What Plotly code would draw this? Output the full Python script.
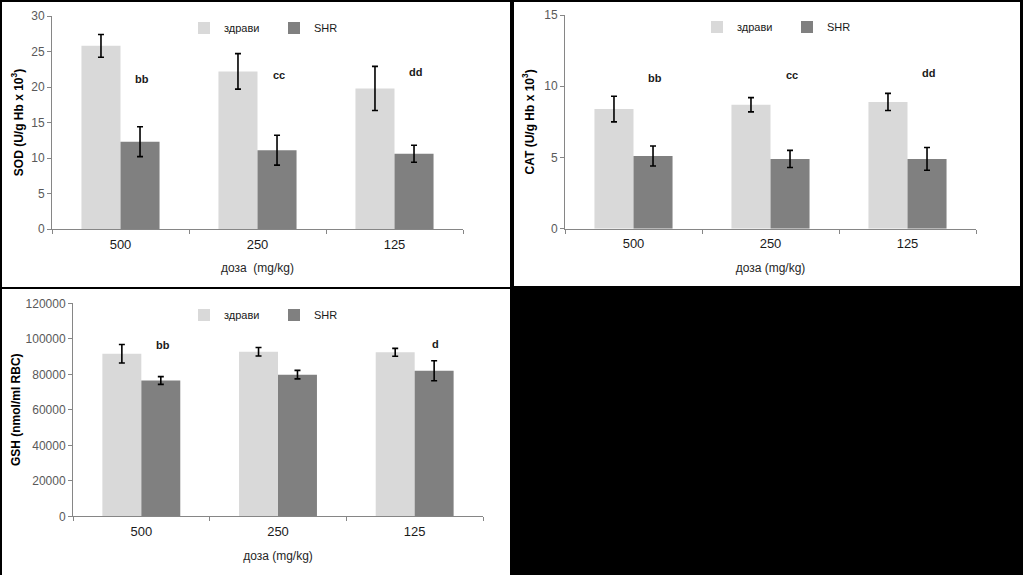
import plotly.graph_objects as go

# ---------------- data ----------------
doses = ["500", "250", "125"]
series_names = ["здрави", "SHR"]

sod_healthy = [25.8, 22.2, 19.8]
sod_healthy_err = [1.6, 2.5, 3.1]
sod_shr = [12.3, 11.1, 10.6]
sod_shr_err = [2.1, 2.1, 1.2]

cat_healthy = [8.4, 8.7, 8.9]
cat_healthy_err = [0.9, 0.5, 0.6]
cat_shr = [5.1, 4.9, 4.9]
cat_shr_err = [0.7, 0.6, 0.8]

gsh_healthy = [91600, 92700, 92400]
gsh_healthy_err = [5200, 2400, 2200]
gsh_shr = [76500, 79800, 82000]
gsh_shr_err = [2200, 2400, 5600]

sod_sig = ["bb", "cc", "dd"]
cat_sig = ["bb", "cc", "dd"]
gsh_sig = ["bb", "", "d"]

# ---------------- styling ----------------
W, H = 1023, 575
FONT = "Liberation Sans, Arial, sans-serif"
C_HEALTHY = "#d9d9d9"
C_SHR = "#808080"
AXIS_COL = "#868686"


def px_x(x):
    return x / W


def px_y(y):
    return (H - y) / H


fig = go.Figure()

panels = [
    dict(x="x", y="y", leg="legend", h=sod_healthy, he=sod_healthy_err, s=sod_shr, se=sod_shr_err),
    dict(x="x2", y="y2", leg="legend2", h=cat_healthy, he=cat_healthy_err, s=cat_shr, se=cat_shr_err),
    dict(x="x3", y="y3", leg="legend3", h=gsh_healthy, he=gsh_healthy_err, s=gsh_shr, se=gsh_shr_err),
]

for p in panels:
    for name, vals, errs, col in [(series_names[0], p["h"], p["he"], C_HEALTHY),
                                  (series_names[1], p["s"], p["se"], C_SHR)]:
        fig.add_trace(go.Bar(
            x=doses, y=vals, name=name, marker=dict(color=col, line=dict(width=0)),
            error_y=dict(type="data", array=errs, visible=True, color="black",
                         thickness=1.6, width=3),
            xaxis=p["x"], yaxis=p["y"], legend=p["leg"],
        ))

# white panels on black background
panel_boxes = [(2, 2, 510, 287), (514, 2, 1020, 286), (2, 289, 510, 575)]
shapes = []
for (x0, y0, x1, y1) in panel_boxes:
    shapes.append(dict(type="rect", xref="paper", yref="paper", layer="below",
                       x0=px_x(x0), x1=px_x(x1), y0=px_y(y1), y1=px_y(y0),
                       fillcolor="white", line=dict(width=0)))

tickfont_y = dict(family=FONT, size=12, color="#595959")
tickfont_x = dict(family=FONT, size=13, color="#1a1a1a")
title_x_font = dict(family=FONT, size=12, color="#262626")
title_y_font = dict(family=FONT, size=12, color="black")


def xaxis_cfg(dom, title, anchor):
    return dict(domain=dom, type="category", showline=True, linecolor=AXIS_COL, linewidth=1,
                ticks="outside", tickson="boundaries", ticklen=4, tickcolor=AXIS_COL,
                showgrid=False, zeroline=False, tickfont=tickfont_x, fixedrange=True,
                ticklabelstandoff=3,
                anchor=anchor, title=dict(text=title, font=title_x_font, standoff=13))


def yaxis_cfg(dom, rng, dtick, title, anchor, standoff):
    return dict(domain=dom, range=rng, dtick=dtick, showline=True, linecolor=AXIS_COL, linewidth=1,
                ticks="outside", ticklen=4, tickcolor=AXIS_COL, showgrid=False, zeroline=False,
                tickfont=tickfont_y, anchor=anchor, fixedrange=True, tickformat="d",
                title=dict(text="<b>" + title + "</b>", font=title_y_font, standoff=standoff))


layout = dict(
    width=W, height=H, margin=dict(l=0, r=0, t=0, b=0, pad=0, autoexpand=False),
    paper_bgcolor="black", plot_bgcolor="white",
    barmode="group", bargap=0.43, bargroupgap=0,
    font=dict(family=FONT),
    shapes=shapes,
    xaxis=xaxis_cfg([px_x(52), px_x(463)], "доза  (mg/kg)", "y"),
    yaxis=yaxis_cfg([px_y(229), px_y(16)], [0, 30], 5, "SOD (U/g Hb x 10<sup>3</sup>)", "x", 5),
    xaxis2=xaxis_cfg([px_x(565), px_x(976)], "доза (mg/kg)", "y2"),
    yaxis2=yaxis_cfg([px_y(228.7), px_y(15)], [0, 15], 5, "CAT (U/g Hb x 10<sup>3</sup>)", "x2", 7),
    xaxis3=xaxis_cfg([px_x(73), px_x(483)], "доза (mg/kg)", "y3"),
    yaxis3=yaxis_cfg([px_y(516.3), px_y(303.3)], [0, 120000], 20000, "GSH (nmol/ml RBC)", "x3", 2),
)

leg_common = dict(orientation="h", bgcolor="rgba(0,0,0,0)", font=dict(family=FONT, size=11, color="#1a1a1a"),
                  xanchor="left", yanchor="middle", entrywidth=45, entrywidthmode="pixels",
                  traceorder="normal")
layout["legend"] = dict(leg_common, x=px_x(184), y=px_y(28))
layout["legend2"] = dict(leg_common, x=px_x(697), y=px_y(27))
layout["legend3"] = dict(leg_common, x=px_x(184), y=px_y(315))

fig.update_layout(**layout)

# significance labels
annotations = []
for sigs, yvals, xr, yr in [(sod_sig, [21.1, 21.7, 22.1], "x", "y"),
                            (cat_sig, [10.6, 10.8, 10.9], "x2", "y2"),
                            (gsh_sig, [96500, 0, 97000], "x3", "y3")]:
    for i, (lab, yv) in enumerate(zip(sigs, yvals)):
        if not lab:
            continue
        annotations.append(dict(x=i + 0.155, y=yv, xref=xr, yref=yr, text="<b>" + lab + "</b>",
                                showarrow=False, font=dict(family=FONT, size=11, color="#1a1a1a")))
fig.update_layout(annotations=annotations)

fig.write_html("out.html", config={"displayModeBar": False},
               post_script="document.body.style.margin='0';document.body.style.overflow='hidden';")
